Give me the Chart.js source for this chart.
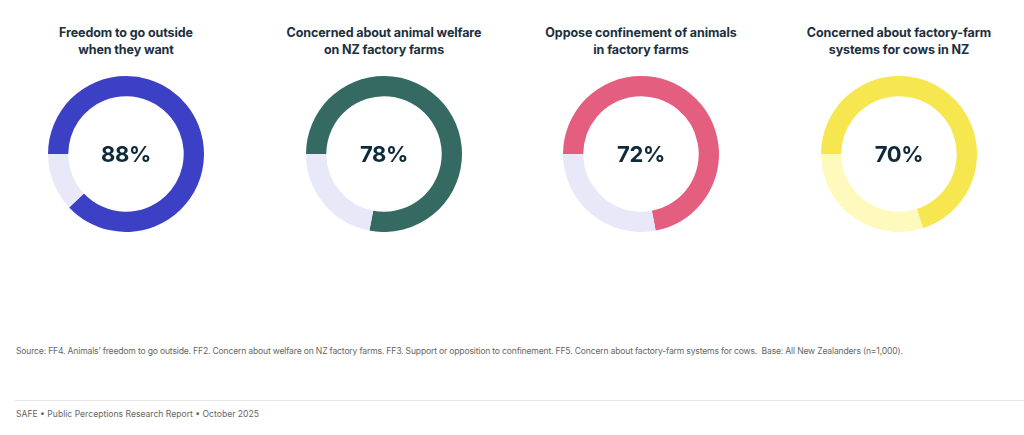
<!DOCTYPE html>
<html>
<head>
<meta charset="utf-8">
<script src="https://cdn.jsdelivr.net/npm/chart.js@4.4.0/dist/chart.umd.min.js"></script>
<style>
    body { margin: 0; background: #fff; font-family: Inter, "Noto Sans", sans-serif; }
    .page { position: relative; width: 1024px; height: 435px; overflow: hidden; }
    .panel { position: absolute; top: 0; width: 256px; height: 250px; }
    .panel h3 {
        position: absolute; top: 24px; left: 0; width: 100%; margin: 0;
        text-align: center; font-size: 12.5px; line-height: 17px; font-weight: 700;
        color: #1c3040; letter-spacing: -0.1px;
    }
    .panel .ring { position: absolute; top: 76px; left: 50px; width: 156px; height: 156px; }
    .panel .pct {
        position: absolute; top: 76px; left: 50px; width: 156px; height: 156px;
        line-height: 156px; text-align: center; font-size: 22px; font-weight: 700;
        color: #0f2a3b; letter-spacing: -0.4px;
    }
    .source { position: absolute; left: 16px; top: 346px; font-size: 8.6px; color: #666; white-space: nowrap; letter-spacing: -0.18px; }
    .rule { position: absolute; left: 15px; right: 0; top: 400px; height: 1px; background: #e4e4e4; }
    .footer { position: absolute; left: 16px; top: 409px; font-size: 8.6px; color: #666; white-space: nowrap; }
</style>
</head>
<body>
<div class="page" id="page">
    <div class="source">Source: FF4. Animals’ freedom to go outside. FF2. Concern about welfare on NZ factory farms. FF3. Support or opposition to confinement. FF5. Concern about factory-farm systems for cows.&nbsp; Base: All New Zealanders (n=1,000).</div>
    <div class="rule"></div>
    <div class="footer">SAFE • Public Perceptions Research Report • October 2025</div>
</div>
<script>
    // Values
    const titles = [
        ['Freedom to go outside', 'when they want'],
        ['Concerned about animal welfare', 'on NZ factory farms'],
        ['Oppose confinement of animals', 'in factory farms'],
        ['Concerned about factory-farm', 'systems for cows in NZ']
    ];
    const values = [88, 78, 72, 70];
    const fillColors = ['#3c40c5', '#356a62', '#e45e80', '#f6e64f'];
    const restColors = ['#e8e8f8', '#e8e8f8', '#e8e8f8', '#fef9bd'];
    const centers = [126, 384, 641, 899];

    const page = document.getElementById('page');

    values.forEach((value, i) => {
        const panel = document.createElement('div');
        panel.className = 'panel';
        panel.style.left = (centers[i] - 128) + 'px';
        panel.innerHTML =
            '<h3>' + titles[i].join('<br>') + '</h3>' +
            '<div class="ring"><canvas></canvas></div>' +
            '<div class="pct">' + value + '%</div>';
        page.appendChild(panel);

        new Chart(panel.querySelector('canvas'), {
            type: 'doughnut',
            data: {
                labels: ['Yes', 'Other'],
                datasets: [{
                    data: [value, 100 - value],
                    backgroundColor: [fillColors[i], restColors[i]],
                    borderWidth: 0
                }]
            },
            options: {
                responsive: true,
                maintainAspectRatio: false,
                animation: false,
                rotation: -90,
                cutout: '74%',
                layout: { padding: 0 },
                plugins: {
                    legend: { display: false },
                    tooltip: { enabled: false }
                }
            }
        });
    });
</script>
</body>
</html>
